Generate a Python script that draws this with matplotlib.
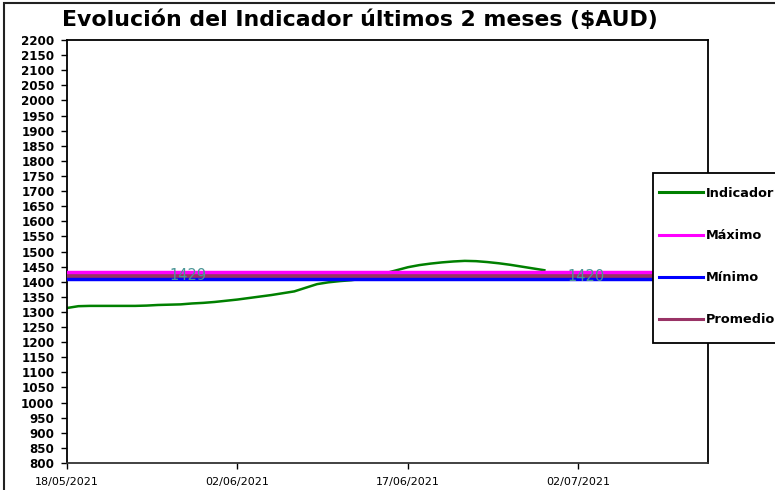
import matplotlib
matplotlib.use("Agg")
import matplotlib.pyplot as plt
import matplotlib.dates as mdates
from matplotlib.patches import Rectangle
import numpy as np
import datetime as dt

# ---- data ----
start_date = "2021-05-18"
indicador = [1313, 1319, 1320, 1320, 1320, 1320, 1320, 1321, 1323, 1324,
             1325, 1328, 1330, 1333, 1337, 1341, 1346, 1351, 1356, 1362,
             1368, 1380, 1392, 1398, 1402, 1405, 1410, 1418, 1428, 1438,
             1448, 1455, 1460, 1464, 1467, 1469, 1468, 1465, 1461, 1456,
             1450, 1444, 1438]
maximo = 1429
minimo = 1408
promedio = 1418
label_texts = ["1429", "1420"]
label_dates = ["2021-05-28", "2021-07-02"]
label_values = [1420, 1418]
xtick_dates = ["2021-05-18", "2021-06-02", "2021-06-17", "2021-07-02"]
legend_labels = ["Indicador", "Máximo", "Mínimo", "Promedio"]
title = "Evolución del Indicador últimos 2 meses ($AUD)"

d0 = dt.datetime.strptime(start_date, "%Y-%m-%d")
dates = [d0 + dt.timedelta(days=i) for i in range(len(indicador))]
xmin = d0
xmax = d0 + dt.timedelta(days=56.4)

W, H = 775, 490
fig = plt.figure(figsize=(W / 100, H / 100), dpi=100)
ax = fig.add_axes([67 / W, 1 - 463 / H, (708 - 67) / W, (463 - 40) / H])

l1, = ax.plot(dates, indicador, color="#008000", lw=1.8, zorder=2)
l2, = ax.plot([xmin, xmax], [maximo, maximo], color="#ff00ff", lw=3.2, zorder=3)
l3, = ax.plot([xmin, xmax], [minimo, minimo], color="#0000ff", lw=3.2, zorder=3)
l4, = ax.plot([xmin, xmax], [promedio, promedio], color="#993366", lw=2.6, zorder=4)

for t, d, v in zip(label_texts, label_dates, label_values):
    x = dt.datetime.strptime(d, "%Y-%m-%d") + dt.timedelta(hours=16)
    ax.text(x, v, t, color="#4a9696", fontsize=10.5, ha="center", va="center", zorder=5)

ax.set_xlim(xmin, xmax)
ax.set_ylim(800, 2200)
ax.set_yticks(np.arange(800, 2201, 50))
ax.set_xticks([dt.datetime.strptime(d, "%Y-%m-%d") for d in xtick_dates])
ax.xaxis.set_major_formatter(mdates.DateFormatter("%d/%m/%Y"))
for lab in ax.get_yticklabels():
    lab.set_fontweight("bold")
ax.tick_params(axis="y", labelsize=8.6, length=4, width=1, direction="out", pad=5)
ax.tick_params(axis="x", labelsize=8, length=4, width=1, direction="out", pad=6)
for s in ax.spines.values():
    s.set_linewidth(1.3)
ax.spines["bottom"].set_color("#333333")

fig.text(360 / W, 1 - 20 / H, title, fontsize=15.8, fontweight="bold",
         ha="center", va="center")

# outer chart frame
fig.patches.append(Rectangle((4 / W, -0.1), 1.2, 1 - 3 / H + 0.1,
                             transform=fig.transFigure, fill=False,
                             edgecolor="#222222", lw=1.5, zorder=0))

# legend box
fig.patches.append(Rectangle((653 / W, 1 - 343 / H), 200 / W, (343 - 173) / H,
                             transform=fig.transFigure, facecolor="white",
                             edgecolor="black", lw=1.3, zorder=10))
leg = fig.legend([l1, l2, l3, l4], legend_labels, loc="upper left",
                 bbox_to_anchor=(659 / W, 1 - 187 / H), frameon=False,
                 borderpad=0, borderaxespad=0, handlelength=3.4,
                 handletextpad=0.25, labelspacing=2.25,
                 prop={"weight": "bold", "size": 9.3})
leg.set_zorder(11)
for h in leg.legend_handles:
    h.set_linewidth(2.2)

fig.savefig("out.png", dpi=100)
